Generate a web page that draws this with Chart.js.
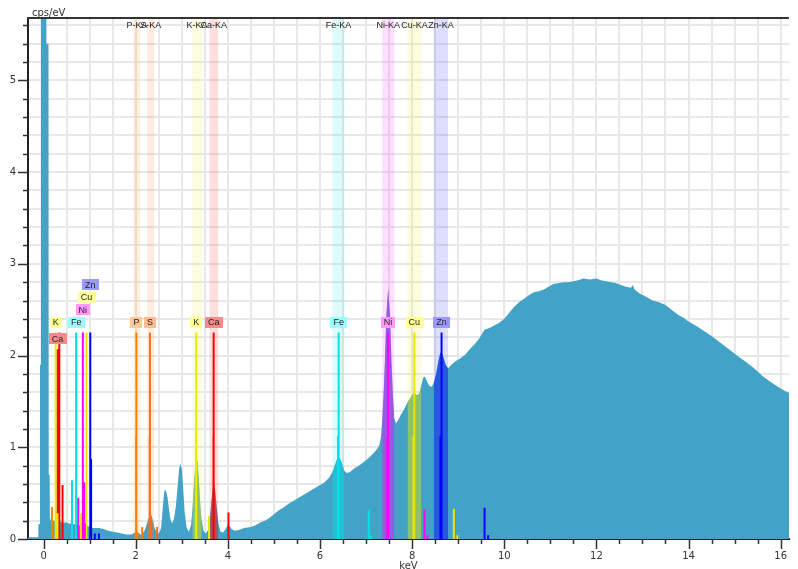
<!DOCTYPE html>
<html>
<head>
<meta charset="utf-8">
<script src="https://cdn.jsdelivr.net/npm/chart.js@4.4.1/dist/chart.umd.min.js"></script>
<style>
  html, body { margin: 0; padding: 0; background: #fff; }
</style>
</head>
<body>
<canvas id="spectrum" width="798" height="569"></canvas>
<script>
// EDX spectrum, values (keV, cps/eV)
const energyKeV = [
  -0.34, -0.12, -0.115, -0.085, -0.08, -0.065, -0.06, 0.055, 0.06, 0.105, 0.11, 0.13, 0.135,
  0.16, 0.2, 0.25, 0.3, 0.35, 0.4, 0.45, 0.5, 0.55, 0.6, 0.65, 0.7, 0.75, 0.8, 0.85, 0.9, 0.95,
  1.0, 1.05, 1.1, 1.2, 1.3, 1.4, 1.5, 1.6, 1.7, 1.8, 1.9, 1.95, 2.0, 2.05, 2.1, 2.15, 2.2, 2.25,
  2.3, 2.33, 2.36, 2.4, 2.45, 2.5, 2.55, 2.58, 2.61, 2.63, 2.66, 2.69, 2.72, 2.75, 2.79, 2.83,
  2.87, 2.91, 2.94, 2.97, 3.0, 3.03, 3.06, 3.1, 3.15, 3.2, 3.23, 3.26, 3.29, 3.31, 3.34, 3.37,
  3.4, 3.43, 3.47, 3.52, 3.57, 3.6, 3.63, 3.66, 3.69, 3.72, 3.75, 3.79, 3.84, 3.9, 3.95, 3.99,
  4.03, 4.08, 4.15, 4.25, 4.35, 4.5, 4.6, 4.7, 4.8, 4.9, 5.0, 5.1, 5.2, 5.3, 5.4, 5.5, 5.6, 5.7,
  5.8, 5.9, 6.0, 6.1, 6.2, 6.27, 6.32, 6.36, 6.41, 6.45, 6.49, 6.53, 6.58, 6.65, 6.75, 6.85,
  6.95, 7.05, 7.15, 7.22, 7.28, 7.32, 7.35, 7.38, 7.41, 7.44, 7.48, 7.52, 7.55, 7.58, 7.61,
  7.65, 7.7, 7.75, 7.8, 7.85, 7.9, 7.95, 8.0, 8.04, 8.1, 8.15, 8.2, 8.24, 8.28, 8.32, 8.37,
  8.42, 8.47, 8.52, 8.57, 8.61, 8.65, 8.69, 8.73, 8.78, 8.85, 8.95, 9.05, 9.15, 9.25, 9.35,
  9.45, 9.57, 9.68, 9.79, 9.9, 10.0, 10.1, 10.21, 10.32, 10.43, 10.54, 10.64, 10.75, 10.86,
  10.96, 11.07, 11.18, 11.29, 11.4, 11.5, 11.6, 11.72, 11.86, 12.0, 12.1, 12.21, 12.32, 12.42,
  12.53, 12.64, 12.75, 12.79, 12.83, 12.93, 13.08, 13.22, 13.36, 13.5, 13.65, 13.79, 13.9,
  14.0, 14.18, 14.36, 14.54, 14.72, 14.9, 15.08, 15.25, 15.43, 15.6, 15.79, 16.0, 16.1, 16.2
];
const cpsPerEv = [
  0.02, 0.02, 0.16, 0.16, 1.9, 1.9, 8, 8, 5.4, 5.4, 0.7, 0.7, 0.22,
  0.2, 0.19, 0.2, 0.19, 0.19, 0.18, 0.18, 0.18, 0.17, 0.17, 0.16, 0.16, 0.15, 0.15, 0.14, 0.14, 0.14,
  0.13, 0.12, 0.12, 0.12, 0.11, 0.09, 0.08, 0.07, 0.06, 0.05, 0.05, 0.06, 0.08, 0.07, 0.05, 0.06, 0.1, 0.18,
  0.26, 0.27, 0.22, 0.13, 0.08, 0.06, 0.12, 0.3, 0.48, 0.54, 0.52, 0.45, 0.33, 0.22, 0.17, 0.22,
  0.36, 0.58, 0.76, 0.82, 0.76, 0.55, 0.3, 0.13, 0.08, 0.15, 0.33, 0.57, 0.8, 0.9, 0.84, 0.64,
  0.38, 0.2, 0.09, 0.06, 0.1, 0.17, 0.34, 0.5, 0.62, 0.55, 0.38, 0.18, 0.08, 0.07, 0.11, 0.15,
  0.15, 0.11, 0.09, 0.1, 0.12, 0.13, 0.15, 0.18, 0.2, 0.23, 0.27, 0.31, 0.34, 0.38, 0.41, 0.44, 0.47, 0.5,
  0.53, 0.56, 0.59, 0.62, 0.67, 0.73, 0.8, 0.86, 0.89, 0.86, 0.8, 0.74, 0.72, 0.73, 0.77, 0.8,
  0.84, 0.88, 0.93, 0.97, 1.01, 1.1, 1.3, 1.58, 1.95, 2.44, 2.73, 2.44, 1.95, 1.58, 1.32,
  1.26, 1.3, 1.35, 1.39, 1.44, 1.49, 1.53, 1.57, 1.59, 1.57, 1.58, 1.68, 1.76, 1.77, 1.72, 1.67,
  1.66, 1.7, 1.8, 1.94, 2.03, 2.02, 1.96, 1.9, 1.86, 1.9, 1.94, 1.97, 2.01, 2.07, 2.12,
  2.18, 2.28, 2.3, 2.33, 2.36, 2.4, 2.46, 2.53, 2.58, 2.62, 2.66, 2.69, 2.7, 2.72,
  2.75, 2.78, 2.79, 2.8, 2.8, 2.81, 2.82, 2.84, 2.83, 2.84, 2.82, 2.81, 2.8, 2.79,
  2.77, 2.75, 2.74, 2.77, 2.72, 2.68, 2.64, 2.6, 2.58, 2.55, 2.49, 2.44, 2.41,
  2.37, 2.32, 2.26, 2.2, 2.13, 2.06, 1.99, 1.93, 1.86, 1.78, 1.71, 1.64, 1.61, 1.59
];

// elements and their K-alpha windows (keV)
const elements = ['P', 'S', 'K', 'Ca', 'Fe', 'Ni', 'Cu', 'Zn'];
const windowNames = ['P-KA', 'S-KA', 'K-KA', 'Ca-KA', 'Fe-KA', 'Ni-KA', 'Cu-KA', 'Zn-KA'];
const windowLo = [1.95, 2.25, 3.23, 3.6, 6.27, 7.35, 7.9, 8.47];
const windowHi = [2.1, 2.4, 3.43, 3.79, 6.53, 7.61, 8.2, 8.78];
const elementRgb = ['255,128,0', '255,110,20', '235,235,0', '255,0,0', '0,225,230', '255,0,255', '230,230,0', '0,0,255'];
const labelFill = ['#ffc896', '#ffbb96', '#ffff99', '#f48a8a', '#99ffff', '#ff99ff', '#ffff99', '#9999ff'];

// marker lines: energy (keV), height (cps/eV), element index
const markerEnergy = [
  2.013, 2.008, 2.139, 0.18,
  2.307, 2.302, 2.464, 0.20,
  3.313, 3.309, 3.59, 0.26, 0.30,
  3.691, 3.687, 4.012, 0.30, 0.34, 0.41,
  6.404, 6.391, 7.058, 7.10, 0.705, 0.615,
  7.478, 7.461, 8.265, 8.33, 0.851, 0.75, 0.88,
  8.047, 8.027, 8.905, 8.98, 0.93, 0.81,
  8.638, 8.615, 9.572, 9.65, 1.012, 1.03, 0.90, 1.11, 1.20
];
const markerHeight = [
  2.25, 1.12, 0.13, 0.35,
  2.25, 1.12, 0.13, 0.2,
  2.25, 1.12, 0.25, 2.25, 0.28,
  2.25, 1.12, 0.29, 2.07, 2.25, 0.59,
  2.25, 1.12, 0.32, 0.04, 2.25, 0.64,
  2.25, 1.12, 0.32, 0.04, 2.25, 0.45, 0.62,
  2.25, 1.12, 0.33, 0.04, 2.25, 0.28,
  2.25, 1.12, 0.34, 0.04, 2.25, 0.87, 0.17, 0.06, 0.06
];
const markerElement = [
  0, 0, 0, 0,
  1, 1, 1, 1,
  2, 2, 2, 2, 2,
  3, 3, 3, 3, 3, 3,
  4, 4, 4, 4, 4, 4,
  5, 5, 5, 5, 5, 5, 5,
  6, 6, 6, 6, 6, 6,
  7, 7, 7, 7, 7, 7, 7, 7, 7
];

// labelled markers (tier = how many boxes up it is stacked)
const labelElement = [0, 1, 2, 3, 4, 5, 6, 7, 2, 3, 4, 5, 6, 7];
const labelEnergy = [2.013, 2.307, 3.313, 3.691, 6.404, 7.478, 8.047, 8.638, 0.26, 0.30, 0.705, 0.851, 0.93, 1.012];
const labelHeight = [2.25, 2.25, 2.25, 2.25, 2.25, 2.25, 2.25, 2.25, 2.25, 2.07, 2.25, 2.25, 2.25, 2.25];
const labelTier = [0, 0, 0, 0, 0, 0, 0, 0, 0, 0, 0, 1, 2, 3];

// axes: ticks every 0.5 keV (labels every 2), every 0.2 cps/eV (labels every 1)
const xTickValues = Array.from({ length: 33 }, (_, i) => i * 0.5);
const yTickValues = Array.from({ length: 29 }, (_, i) => Math.round(i * 2) / 10);
const X_MIN = -0.34, X_MAX = 16.18, Y_MAX = 5.68;
const TEAL = '#42a3c6';

const spectrumPoints = energyKeV.map((e, i) => ({ x: e, y: cpsPerEv[i] }));

const datasets = [{
  data: spectrumPoints,
  borderWidth: 0,
  pointRadius: 0,
  fill: 'origin',
  backgroundColor: TEAL,
  order: 10
}];

// spectrum recoloured inside each element window
elements.forEach((el, i) => {
  datasets.push({
    data: spectrumPoints.filter(p => p.x >= windowLo[i] - 1e-9 && p.x <= windowHi[i] + 1e-9),
    borderWidth: 0,
    pointRadius: 0,
    fill: 'origin',
    backgroundColor: 'rgba(' + elementRgb[i] + ',0.45)',
    order: 5
  });
});

// stems, one dataset per element, gaps between lines
elements.forEach((el, i) => {
  const pts = [];
  markerEnergy.forEach((e, k) => {
    if (markerElement[k] !== i) return;
    pts.push({ x: e, y: 0 }, { x: e, y: markerHeight[k] }, { x: e, y: null });
  });
  datasets.push({
    data: pts,
    borderColor: 'rgb(' + elementRgb[i] + ')',
    borderWidth: 2,
    pointRadius: 0,
    fill: false,
    spanGaps: false,
    order: 1
  });
});

const isMultiple = (v, step) => Math.abs(v / step - Math.round(v / step)) < 1e-6;

const decor = {
  id: 'decor',
  beforeDatasetsDraw(chart) {
    const { ctx, chartArea: a, scales: { x } } = chart;
    ctx.save();
    elements.forEach((el, i) => {
      const l = x.getPixelForValue(windowLo[i]);
      const r = x.getPixelForValue(windowHi[i]);
      ctx.fillStyle = 'rgba(' + elementRgb[i] + ',0.13)';
      ctx.fillRect(l, a.top, r - l, a.bottom - a.top);
    });
    ctx.restore();
  },
  afterDatasetsDraw(chart) {
    const { ctx, chartArea: a, scales: { x, y } } = chart;
    ctx.save();
    ctx.font = '9px "Liberation Sans", Arial, sans-serif';
    ctx.textAlign = 'center';
    ctx.textBaseline = 'middle';
    // window names along the top
    windowNames.forEach((name, i) => {
      const cx = x.getPixelForValue((windowLo[i] + windowHi[i]) / 2);
      ctx.fillStyle = '#222';
      ctx.fillText(name, cx, a.top + 8);
    });
    // label boxes above the stems
    labelElement.forEach((ei, k) => {
      const cx = x.getPixelForValue(labelEnergy[k]);
      const bottom = y.getPixelForValue(labelHeight[k]) - 5 - labelTier[k] * 12.5;
      const tw = ctx.measureText(elements[ei]).width;
      const w = tw + 6, h = 11;
      ctx.fillStyle = labelFill[ei];
      ctx.fillRect(Math.round(cx - w / 2), Math.round(bottom - h), Math.round(w), h);
      ctx.fillStyle = '#222';
      ctx.fillText(elements[ei], cx, bottom - h / 2 + 0.5);
    });
    ctx.restore();
  },
  afterDraw(chart) {
    const { ctx, chartArea: a, scales: { x, y } } = chart;
    ctx.save();
    ctx.strokeStyle = '#333';
    ctx.lineWidth = 2;
    ctx.beginPath();
    ctx.moveTo(a.left - 1, a.top);
    ctx.lineTo(a.right, a.top);
    ctx.stroke();
    ctx.lineWidth = 1.5;
    ctx.beginPath();
    x.ticks.forEach(t => {
      const px = Math.round(x.getPixelForValue(t.value)) + 0.5;
      const len = isMultiple(t.value, 2) ? 10 : 5;
      ctx.moveTo(px, a.bottom);
      ctx.lineTo(px, a.bottom + len);
    });
    y.ticks.forEach(t => {
      const py = Math.round(y.getPixelForValue(t.value)) + 0.5;
      const len = isMultiple(t.value, 1) ? 10 : 5;
      ctx.moveTo(a.left, py);
      ctx.lineTo(a.left - len, py);
    });
    ctx.stroke();
    ctx.fillStyle = '#333';
    ctx.font = '10px "DejaVu Sans", sans-serif';
    ctx.textAlign = 'left';
    ctx.textBaseline = 'alphabetic';
    ctx.fillText('cps/eV', a.left + 4, a.top - 2);
    ctx.textAlign = 'center';
    ctx.textBaseline = 'top';
    ctx.fillText('keV', (a.left + a.right) / 2, 561);
    ctx.restore();
  }
};

new Chart(document.getElementById('spectrum'), {
  type: 'line',
  data: { datasets: datasets },
  plugins: [decor],
  options: {
    responsive: false,
    animation: false,
    devicePixelRatio: 1,
    layout: { padding: { top: 18, left: 0, right: 0, bottom: 0 } },
    plugins: { legend: { display: false }, tooltip: { enabled: false } },
    elements: { line: { tension: 0 } },
    scales: {
      x: {
        type: 'linear',
        min: X_MIN,
        max: X_MAX,
        afterBuildTicks: s => { s.ticks = xTickValues.map(v => ({ value: v })); },
        afterFit: s => { s.height = 30; },
        border: { display: true, color: '#222', width: 2 },
        grid: { drawTicks: false, lineWidth: 2, color: '#e8e8e8' },
        ticks: {
          autoSkip: false,
          maxRotation: 0,
          padding: 11,
          color: '#333',
          font: { family: 'DejaVu Sans', size: 10 },
          callback: v => isMultiple(v, 2) ? String(Math.round(v)) : ''
        }
      },
      y: {
        min: 0,
        max: Y_MAX,
        afterBuildTicks: s => { s.ticks = yTickValues.map(v => ({ value: v })); },
        afterFit: s => { s.width = 28; },
        border: { display: true, color: '#222', width: 2 },
        grid: {
          drawTicks: false,
          lineWidth: 2,
          color: c => c.tick.value > 0 ? '#e8e8e8' : 'rgba(0,0,0,0)'
        },
        ticks: {
          autoSkip: false,
          padding: 12,
          color: '#333',
          font: { family: 'DejaVu Sans', size: 10 },
          callback: v => isMultiple(v, 1) ? String(Math.round(v)) : ''
        }
      }
    }
  }
});
</script>
</body>
</html>
